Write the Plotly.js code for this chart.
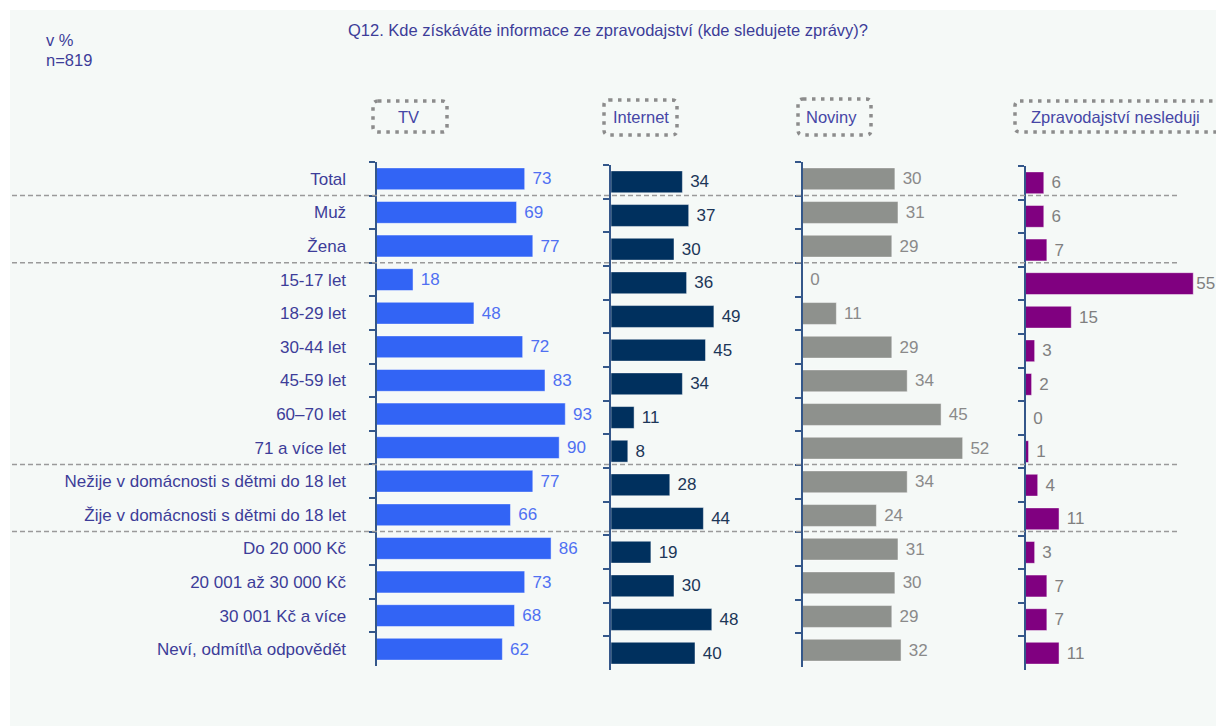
<!DOCTYPE html>
<html>
<head>
<meta charset="utf-8">
<script src="https://cdn.plot.ly/plotly-3.0.1.min.js"></script>
<style>html,body{margin:0;padding:0;background:#fff;}#chart{width:1216px;height:726px;}</style>
</head>
<body>
<div id="chart"></div>
<script>
const categories = ["Total","Muž","Žena","15-17 let","18-29 let","30-44 let","45-59 let","60–70 let","71 a více let","Nežije v domácnosti s dětmi do 18 let","Žije v domácnosti s dětmi do 18 let","Do 20 000 Kč","20 001 až 30 000 Kč","30 001 Kč a více","Neví, odmítl\\a odpovědět"];
const seriesNames = ["TV","Internet","Noviny","Zpravodajství nesleduji"];
const tv = [73,69,77,18,48,72,83,93,90,77,66,86,73,68,62];
const internet = [34,37,30,36,49,45,34,11,8,28,44,19,30,48,40];
const noviny = [30,31,29,0,11,29,34,45,52,34,24,31,30,29,32];
const nesleduji = [6,6,7,55,15,3,2,0,1,4,11,3,7,7,11];
const titleText = "Q12. Kde získáváte informace ze zpravodajství (kde sledujete zprávy)?";
const noteLines = ["v %","n=819"];

const W = 1216, H = 726;
const px = p => p / W;
const py = p => 1 - p / H;
const FONT = "Liberation Sans, Arial, sans-serif";
const textCol = "#3d3d99";
const axisCol = "#34578a";

const series = [tv, internet, noviny, nesleduji];
const barColors = ["#3264f5", "#00305e", "#8e918d", "#800080"];
const labelColors = ["#4f70f2", "#1c3658", "#8a8a8a", "#808080"];
const xDom = [[376.5, 600], [611, 795], [802.5, 1010], [1025.5, 1216]];
const xScale = [2.03, 2.1, 3.08, 3.05];
const yDom = [[162, 666], [165, 670], [162, 667], [166, 670]];

const traces = series.map((vals, i) => ({
  type: "bar",
  orientation: "h",
  x: vals,
  y: categories,
  xaxis: i === 0 ? "x" : "x" + (i + 1),
  yaxis: i === 0 ? "y" : "y" + (i + 1),
  marker: {color: barColors[i], line: {color: "rgba(255,255,255,0.45)", width: 1}},
  // keep a small gap after the bar, but not when the label would run past the right edge
  text: vals.map(v => (xDom[i][0] + v * xScale[i] + 30 > W ? "" : "\u00a0") + v),
  textposition: "outside",
  cliponaxis: false,
  constraintext: "none",
  textfont: {family: FONT, size: 17, color: labelColors[i]},
  name: seriesNames[i],
  hoverinfo: "none"
}));

const layout = {
  width: W, height: H,
  margin: {l: 0, r: 0, t: 0, b: 0},
  paper_bgcolor: "#ffffff",
  plot_bgcolor: "rgba(0,0,0,0)",
  showlegend: false,
  bargap: 0.35,
  font: {family: FONT, size: 16.5, color: textCol},
  shapes: [],
  annotations: []
};

for (let i = 0; i < 4; i++) {
  const s = i === 0 ? "" : String(i + 1);
  layout["xaxis" + s] = {
    domain: [px(xDom[i][0]), px(xDom[i][1])],
    range: [0, (xDom[i][1] - xDom[i][0]) / xScale[i]],
    visible: false,
    anchor: "y" + s,
    fixedrange: true
  };
  layout["yaxis" + s] = {
    domain: [py(yDom[i][1]), py(yDom[i][0])],
    type: "category",
    categoryarray: categories,
    categoryorder: "array",
    range: [categories.length - 0.5, -0.5],
    anchor: "x" + s,
    showline: true,
    linecolor: axisCol,
    linewidth: 2,
    ticks: "outside",
    ticklen: 6,
    tickwidth: 2,
    tickcolor: axisCol,
    tickson: "boundaries",
    showgrid: false,
    zeroline: false,
    showticklabels: i === 0,
    ticklabelstandoff: 25,
    tickfont: {family: FONT, size: 17, color: textCol},
    fixedrange: true
  };
}

// background panel
layout.shapes.push({type: "rect", xref: "paper", yref: "paper", x0: px(10), x1: 1, y0: 0, y1: py(10),
  fillcolor: "#f5f9f7", line: {width: 0}, layer: "below"});

// group separators
[0.5, 2.5, 8.5, 10.5].forEach(b => {
  layout.shapes.push({type: "line", xref: "paper", yref: "y", x0: px(12), x1: px(1177), y0: b, y1: b,
    line: {color: "#9a9a9a", width: 1.5, dash: "5px,3px"}, layer: "above"});
});

// dotted header boxes
function roundBox(x0, y0, x1, y1, r) {
  const X = v => px(v).toFixed(5), Y = v => py(v).toFixed(5);
  return `M${X(x0 + r)},${Y(y0)} L${X(x1 - r)},${Y(y0)} Q${X(x1)},${Y(y0)} ${X(x1)},${Y(y0 + r)} ` +
    `L${X(x1)},${Y(y1 - r)} Q${X(x1)},${Y(y1)} ${X(x1 - r)},${Y(y1)} L${X(x0 + r)},${Y(y1)} ` +
    `Q${X(x0)},${Y(y1)} ${X(x0)},${Y(y1 - r)} L${X(x0)},${Y(y0 + r)} Q${X(x0)},${Y(y0)} ${X(x0 + r)},${Y(y0)} Z`;
}
const boxes = [[373, 101, 447, 132], [604, 100, 677, 135], [798, 99, 871, 135], [1015, 101, 1240, 132]];
boxes.forEach(b => {
  layout.shapes.push({type: "path", xref: "paper", yref: "paper", path: roundBox(b[0], b[1], b[2], b[3], 5),
    line: {color: "#8c8c8c", width: 3.5, dash: "3.5px,5.5px"}, fillcolor: "rgba(0,0,0,0)"});
});

// header labels
const headerPos = [[408, "center"], [641, "center"], [831, "center"], [1029, "left"]];
seriesNames.forEach((n, i) => {
  layout.annotations.push({text: n, xref: "paper", yref: "paper", x: px(headerPos[i][0]), y: py(117),
    xanchor: headerPos[i][1], yanchor: "middle", showarrow: false,
    font: {family: FONT, size: 16.5, color: "#4646a6"}});
});

// title and notes
layout.annotations.push({text: titleText, xref: "paper", yref: "paper", x: 0.5, y: py(30),
  xanchor: "center", yanchor: "middle", showarrow: false, font: {family: FONT, size: 16.5, color: textCol}});
noteLines.forEach((t, i) => {
  layout.annotations.push({text: t, xref: "paper", yref: "paper", x: px(44), y: py(40 + i * 20),
    xanchor: "left", yanchor: "middle", showarrow: false, font: {family: FONT, size: 16.5, color: textCol}});
});

Plotly.newPlot("chart", traces, layout, {staticPlot: true, displayModeBar: false});
</script>
</body>
</html>
